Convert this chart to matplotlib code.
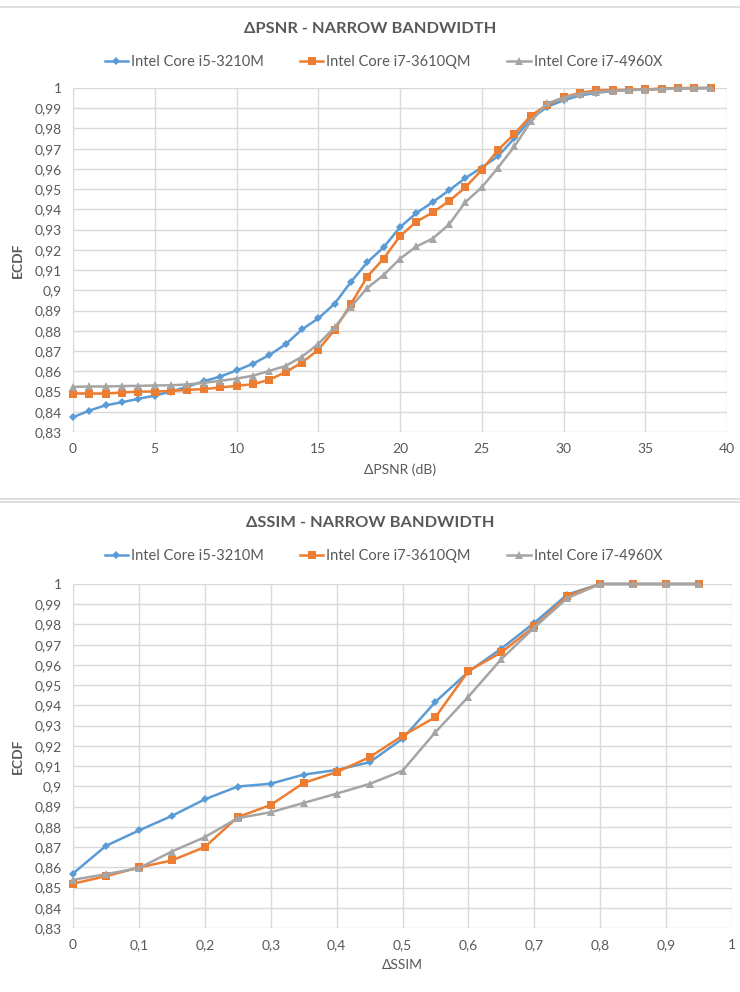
import matplotlib
matplotlib.use("Agg")
import matplotlib.pyplot as plt
from matplotlib.lines import Line2D
from matplotlib.ticker import FuncFormatter

plt.rcParams['font.family'] = ['Lato', 'DejaVu Sans']

series_names = ["Intel Core i5-3210M", "Intel Core i7-3610QM", "Intel Core i7-4960X"]
colors = ["#5B9BD5", "#ED7D31", "#A5A5A5"]
markers = ["D", "s", "^"]
msizes = [4, 5.5, 5.5]

# Top chart: delta PSNR
psnr_x = list(range(0, 40))
psnr_i5 = [0.8373, 0.8406, 0.8432, 0.8447, 0.8464, 0.8480, 0.8500, 0.8524, 0.8551, 0.8574,
           0.8604, 0.8637, 0.8680, 0.8733, 0.8807, 0.8861, 0.8934, 0.9042, 0.9139, 0.9213,
           0.9312, 0.9382, 0.9436, 0.9494, 0.9555, 0.9607, 0.9663, 0.9752, 0.9846, 0.9907,
           0.9939, 0.9963, 0.9976, 0.9985, 0.9990, 0.9993, 0.9995, 0.9998, 0.9999, 1.0000]
psnr_i7q = [0.8490, 0.8490, 0.8490, 0.8495, 0.8500, 0.8500, 0.8503, 0.8508, 0.8512, 0.8520,
            0.8528, 0.8536, 0.8558, 0.8596, 0.8643, 0.8706, 0.8805, 0.8933, 0.9068, 0.9157,
            0.9268, 0.9339, 0.9385, 0.9441, 0.9509, 0.9595, 0.9694, 0.9773, 0.9863, 0.9917,
            0.9954, 0.9976, 0.9988, 0.9990, 0.9990, 0.9993, 0.9997, 1.0000, 1.0000, 1.0000]
psnr_i7x = [0.8523, 0.8525, 0.8525, 0.8527, 0.8528, 0.8530, 0.8531, 0.8535, 0.8543, 0.8553,
            0.8564, 0.8578, 0.8602, 0.8626, 0.8672, 0.8735, 0.8817, 0.8919, 0.9012, 0.9076,
            0.9156, 0.9217, 0.9256, 0.9326, 0.9436, 0.9509, 0.9607, 0.9711, 0.9835, 0.9924,
            0.9952, 0.9971, 0.9980, 0.9985, 0.9990, 0.9992, 0.9995, 0.9998, 0.9999, 1.0000]

# Bottom chart: delta SSIM
ssim_x = [0, 0.05, 0.1, 0.15, 0.2, 0.25, 0.3, 0.35, 0.4, 0.45,
          0.5, 0.55, 0.6, 0.65, 0.7, 0.75, 0.8, 0.85, 0.9, 0.95]
ssim_i5 = [0.8569, 0.8706, 0.8782, 0.8854, 0.8936, 0.8999, 0.9013, 0.9058, 0.9081, 0.9119,
           0.9235, 0.9418, 0.9566, 0.9681, 0.9808, 0.9948, 1.0, 1.0, 1.0, 1.0]
ssim_i7q = [0.8519, 0.8556, 0.8599, 0.8634, 0.8700, 0.8848, 0.8908, 0.9017, 0.9070, 0.9144,
            0.9250, 0.9342, 0.9570, 0.9662, 0.9790, 0.9941, 1.0, 1.0, 1.0, 1.0]
ssim_i7x = [0.8538, 0.8566, 0.8596, 0.8678, 0.8749, 0.8843, 0.8872, 0.8918, 0.8964, 0.9012,
            0.9077, 0.9268, 0.9443, 0.9629, 0.9785, 0.9930, 1.0, 1.0, 1.0, 1.0]

y_ticks = [0.83 + 0.01 * i for i in range(18)]
psnr_xticks = [0, 5, 10, 15, 20, 25, 30, 35, 40]
ssim_xticks = [0, 0.1, 0.2, 0.3, 0.4, 0.5, 0.6, 0.7, 0.8, 0.9, 1.0]

W, H = 740, 992
fig = plt.figure(figsize=(W / 100, H / 100), dpi=100)
txt = "#595959"
grid_c = "#D9D9D9"


def comma_fmt(v, pos):
    s = ("%.2f" % v).rstrip("0").rstrip(".")
    return s.replace(".", ",")


def make_panel(rect, xs, ys_list, xticks, xlim, title, xlabel, title_y, legend_y):
    ax = fig.add_axes(rect)
    handles = []
    for ys, c, m, ms, name in zip(ys_list, colors, markers, msizes, series_names):
        h, = ax.plot(xs, ys, color=c, marker=m, markersize=ms, linewidth=1.8,
                     markeredgewidth=0, label=name, clip_on=False)
        handles.append(h)
    ax.set_xlim(*xlim)
    ax.set_ylim(0.83, 1.0)
    ax.set_yticks(y_ticks)
    ax.set_xticks(xticks)
    ax.yaxis.set_major_formatter(FuncFormatter(comma_fmt))
    ax.xaxis.set_major_formatter(FuncFormatter(comma_fmt))
    ax.grid(True, color=grid_c, linewidth=1.0)
    ax.set_axisbelow(True)
    for s in ax.spines.values():
        s.set_visible(False)
    ax.tick_params(length=0, labelsize=10, colors=txt, pad=8)
    ax.set_ylabel("ECDF", fontsize=10, color=txt, fontweight="bold", labelpad=8)
    ax.set_xlabel(xlabel, fontsize=10, color=txt, labelpad=6)
    fig.text(0.5, title_y, title, ha="center", va="center", fontsize=11.8,
             fontweight="bold", color=txt)
    fig.legend(handles=handles, loc="center", bbox_to_anchor=(0.518, legend_y), ncol=3,
               frameon=False, fontsize=10.5, handlelength=1.6, handletextpad=0.2,
               columnspacing=2.5, labelcolor=txt)
    return ax


make_panel([73 / W, 1 - 432 / H, 654 / W, 344 / H], psnr_x,
           [psnr_i5, psnr_i7q, psnr_i7x], psnr_xticks, (0, 40),
           "ΔPSNR - NARROW BANDWIDTH", "ΔPSNR (dB)", 1 - 29 / H, 1 - 62 / H)
make_panel([73 / W, 1 - 928 / H, 659 / W, 344 / H], ssim_x,
           [ssim_i5, ssim_i7q, ssim_i7x], ssim_xticks, (0, 1.0),
           "ΔSSIM - NARROW BANDWIDTH", "ΔSSIM", 1 - 523 / H, 1 - 556 / H)

for yy in [7, 499, 502]:
    fig.add_artist(Line2D([0, 1], [1 - yy / H, 1 - yy / H], color="#D9D9D9",
                          linewidth=1.2, transform=fig.transFigure))

fig.savefig("out.png", dpi=100, facecolor="white")
